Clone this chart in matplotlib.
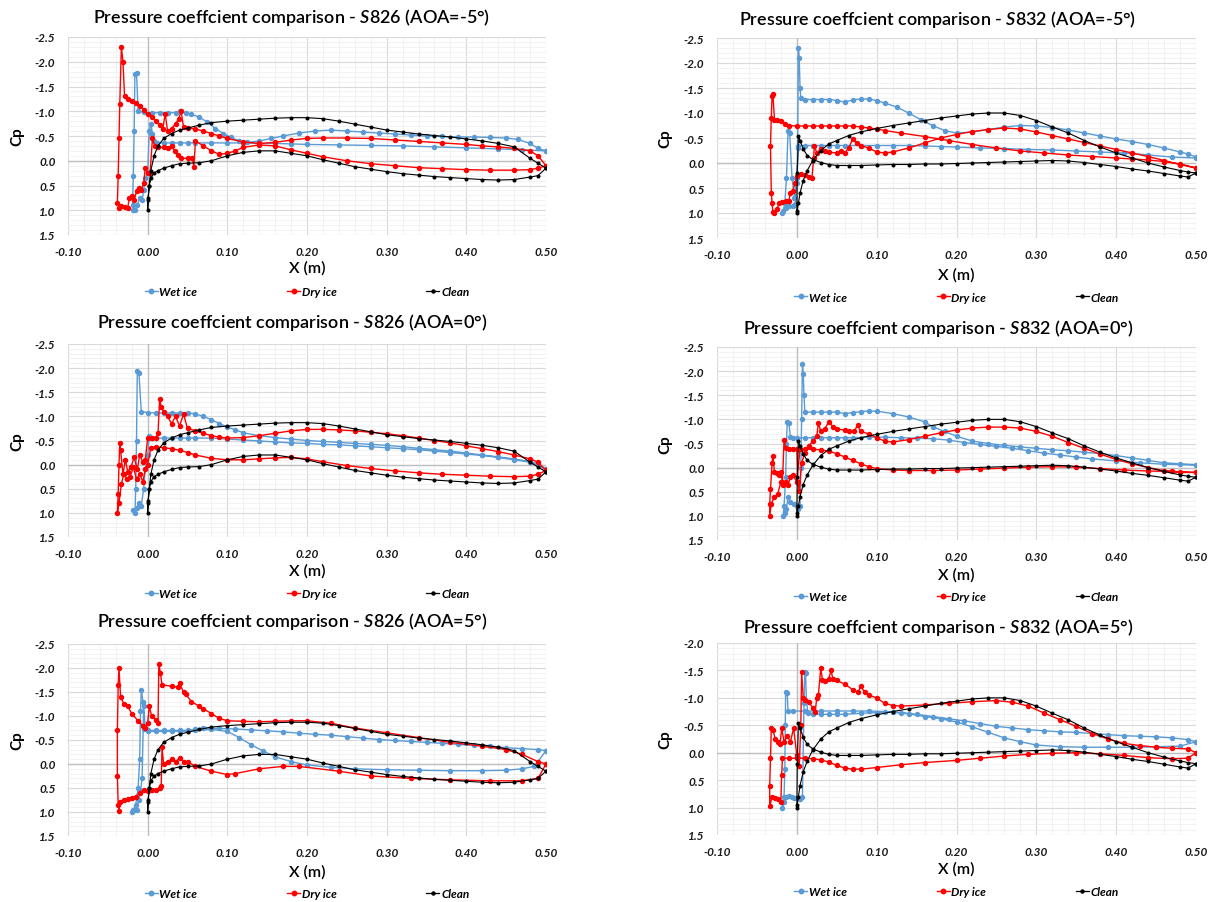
import matplotlib
matplotlib.use('Agg')
import matplotlib.pyplot as plt
from matplotlib.ticker import MultipleLocator, FuncFormatter
from matplotlib.lines import Line2D

plt.rcParams['font.family'] = ['Lato', 'DejaVu Sans']
plt.rcParams['mathtext.fontset'] = 'custom'
plt.rcParams['mathtext.rm'] = 'Lato:semibold'
plt.rcParams['mathtext.it'] = 'Lato:italic:semibold'

# ---- clean airfoil (same points on both surfaces) ----
clean_half = [0.50, 0.49, 0.48, 0.46, 0.44, 0.42, 0.40, 0.38, 0.36, 0.34, 0.32,
              0.30, 0.28, 0.26, 0.24, 0.22, 0.20, 0.18, 0.16, 0.14, 0.12, 0.10,
              0.08, 0.065, 0.05, 0.04, 0.03, 0.02, 0.013, 0.008, 0.004, 0.002, 0.0005]
clean_x = clean_half + [0.0] + clean_half[::-1]

clean_826_upper = [0.15, 0.05, -0.05, -0.28, -0.35, -0.40, -0.44, -0.48, -0.51, -0.54, -0.58,
                   -0.62, -0.68, -0.74, -0.80, -0.85, -0.87, -0.87, -0.86, -0.84, -0.82, -0.80,
                   -0.77, -0.72, -0.66, -0.62, -0.55, -0.45, -0.30, -0.10, 0.20, 0.50, 0.80]
clean_826_lower = [0.75, 0.50, 0.35, 0.25, 0.20, 0.15, 0.10, 0.06, 0.05, 0.04, 0.00,
                   -0.10, -0.17, -0.20, -0.20, -0.15, -0.10, -0.02, 0.05, 0.12, 0.17, 0.22,
                   0.26, 0.29, 0.32, 0.34, 0.36, 0.38, 0.39, 0.38, 0.33, 0.30, 0.15]
clean_832_upper = [0.20, 0.18, 0.15, 0.08, 0.00, -0.10, -0.20, -0.32, -0.45, -0.60, -0.72,
                   -0.85, -0.95, -1.00, -1.00, -0.98, -0.94, -0.90, -0.85, -0.80, -0.75, -0.69,
                   -0.62, -0.55, -0.45, -0.38, -0.25, -0.05, 0.15, 0.35, 0.60, 0.80, 0.95]
clean_832_lower = [0.20, -0.55, -0.45, -0.28, -0.15, -0.07, -0.01, 0.03, 0.05, 0.05, 0.05,
                   0.04, 0.03, 0.03, 0.02, 0.02, 0.01, 0.00, -0.01, -0.02, -0.03, -0.04,
                   -0.05, -0.04, -0.01, 0.03, 0.07, 0.12, 0.16, 0.21, 0.26, 0.28, 0.20]
clean_826_cp = clean_826_upper + [1.0] + clean_826_lower
clean_832_cp = clean_832_upper + [1.0] + clean_832_lower

# ---- S826, AOA=-5 ----
s826_m5_wet = [(0.50, -0.20), (0.49, -0.25), (0.48, -0.35), (0.465, -0.43), (0.45, -0.46), (0.43, -0.47),
               (0.41, -0.48), (0.39, -0.48), (0.37, -0.49), (0.35, -0.50), (0.33, -0.52), (0.31, -0.54),
               (0.29, -0.56), (0.27, -0.58), (0.25, -0.60), (0.23, -0.62), (0.21, -0.60), (0.19, -0.56),
               (0.17, -0.50), (0.155, -0.45), (0.14, -0.40), (0.125, -0.37), (0.115, -0.40), (0.105, -0.47),
               (0.095, -0.55), (0.085, -0.65), (0.075, -0.78), (0.065, -0.88), (0.055, -0.94), (0.048, -0.97),
               (0.04, -1.00), (0.035, -0.97), (0.025, -0.97), (0.015, -0.97), (0.005, -0.97), (-0.005, -0.98),
               (-0.012, -1.00), (-0.014, -1.78), (-0.016, -1.75), (-0.017, -0.60), (-0.018, 0.30), (-0.019, 0.90),
               (-0.018, 1.00), (-0.016, 1.00), (-0.013, 0.90), (-0.010, 0.75), (-0.007, 0.80), (-0.005, 0.60),
               (-0.003, 0.35), (0.0, 0.25), (0.002, -0.60), (0.004, -0.75), (0.006, -0.55), (0.008, -0.40),
               (0.012, -0.36), (0.02, -0.36), (0.03, -0.36), (0.04, -0.36), (0.05, -0.36), (0.06, -0.36),
               (0.08, -0.36), (0.10, -0.36), (0.12, -0.36), (0.14, -0.35), (0.16, -0.35), (0.18, -0.34),
               (0.20, -0.33), (0.24, -0.32), (0.28, -0.31), (0.32, -0.30), (0.36, -0.28), (0.40, -0.26),
               (0.44, -0.24), (0.47, -0.22), (0.50, -0.20)]
s826_m5_dry = [(0.50, 0.10), (0.49, -0.10), (0.48, -0.20), (0.46, -0.25), (0.44, -0.28), (0.42, -0.30),
               (0.40, -0.33), (0.37, -0.36), (0.34, -0.39), (0.31, -0.42), (0.28, -0.45), (0.25, -0.46),
               (0.22, -0.46), (0.20, -0.45), (0.18, -0.42), (0.16, -0.37), (0.14, -0.35), (0.12, -0.38),
               (0.10, -0.45), (0.09, -0.50), (0.08, -0.55), (0.07, -0.60), (0.06, -0.64), (0.05, -0.67),
               (0.045, -0.68), (0.042, -1.00), (0.039, -0.85), (0.035, -0.75), (0.03, -0.65), (0.025, -0.60),
               (0.022, -0.95), (0.019, -0.65), (0.015, -0.72), (0.01, -0.80), (0.005, -0.88), (0.0, -0.95),
               (-0.005, -1.03), (-0.010, -1.10), (-0.015, -1.16), (-0.020, -1.20), (-0.025, -1.25), (-0.029, -1.30),
               (-0.031, -2.00), (-0.033, -2.30), (-0.035, -1.15), (-0.036, -0.45), (-0.037, 0.30), (-0.038, 0.85),
               (-0.036, 0.95), (-0.033, 0.92), (-0.029, 0.93), (-0.025, 0.95), (-0.023, 0.75), (-0.020, 0.72),
               (-0.017, 0.80), (-0.014, 0.62), (-0.011, 0.55), (-0.008, 0.60), (-0.005, 0.45), (-0.003, 0.15),
               (0.0, 0.25), (0.003, 0.25), (0.006, -0.45), (0.009, -0.30), (0.013, -0.27), (0.02, -0.27),
               (0.025, -0.25), (0.03, -0.30), (0.034, -0.20), (0.038, -0.12), (0.042, -0.05), (0.05, -0.05),
               (0.056, -0.05), (0.058, 0.12), (0.06, -0.40), (0.07, -0.30), (0.08, -0.20), (0.09, -0.13),
               (0.10, -0.15), (0.11, -0.20), (0.12, -0.27), (0.14, -0.32), (0.16, -0.30), (0.18, -0.22),
               (0.20, -0.15), (0.22, -0.08), (0.25, 0.00), (0.28, 0.06), (0.31, 0.10), (0.34, 0.14),
               (0.37, 0.16), (0.40, 0.18), (0.43, 0.19), (0.46, 0.19), (0.48, 0.18), (0.49, 0.15), (0.50, 0.10)]

# ---- S826, AOA=0 ----
s826_0_wet = [(0.50, 0.10), (0.49, -0.02), (0.48, -0.06), (0.46, -0.12), (0.44, -0.16), (0.42, -0.20),
              (0.40, -0.24), (0.38, -0.28), (0.36, -0.31), (0.34, -0.34), (0.32, -0.37), (0.30, -0.40),
              (0.28, -0.42), (0.26, -0.44), (0.24, -0.46), (0.22, -0.48), (0.20, -0.50), (0.18, -0.53),
              (0.16, -0.56), (0.14, -0.60), (0.12, -0.66), (0.11, -0.72), (0.10, -0.78), (0.09, -0.85),
              (0.08, -0.93), (0.07, -1.00), (0.06, -1.05), (0.05, -1.07), (0.04, -1.07), (0.03, -1.07),
              (0.02, -1.07), (0.01, -1.07), (0.0, -1.08), (-0.008, -1.10), (-0.011, -1.90), (-0.013, -1.95),
              (-0.014, -0.50), (-0.015, 0.50), (-0.016, 1.00), (-0.018, 0.95), (-0.014, 0.90), (-0.011, 0.80),
              (-0.008, 0.85), (-0.005, 0.50), (-0.003, 0.10), (0.0, -0.20), (0.002, -0.60), (0.004, -0.55),
              (0.01, -0.55), (0.02, -0.55), (0.03, -0.55), (0.04, -0.55), (0.05, -0.55), (0.06, -0.55),
              (0.08, -0.55), (0.10, -0.53), (0.12, -0.51), (0.14, -0.49), (0.16, -0.47), (0.18, -0.45),
              (0.20, -0.44), (0.22, -0.42), (0.24, -0.41), (0.26, -0.39), (0.28, -0.37), (0.30, -0.35),
              (0.32, -0.33), (0.34, -0.31), (0.36, -0.28), (0.38, -0.25), (0.40, -0.22), (0.42, -0.19),
              (0.44, -0.15), (0.46, -0.10), (0.48, -0.05), (0.50, 0.10)]
s826_0_dry = [(0.50, 0.12), (0.49, -0.05), (0.48, -0.12), (0.46, -0.20), (0.44, -0.27), (0.42, -0.33),
              (0.40, -0.39), (0.38, -0.45), (0.36, -0.50), (0.34, -0.55), (0.32, -0.60), (0.30, -0.64),
              (0.28, -0.67), (0.26, -0.70), (0.24, -0.72), (0.22, -0.73), (0.20, -0.73), (0.18, -0.70),
              (0.16, -0.65), (0.14, -0.60), (0.12, -0.56), (0.10, -0.55), (0.09, -0.57), (0.08, -0.60),
              (0.07, -0.65), (0.06, -0.70), (0.05, -0.75), (0.045, -1.05), (0.04, -0.80), (0.035, -1.00),
              (0.03, -0.85), (0.025, -1.00), (0.02, -1.10), (0.017, -1.20), (0.015, -1.35), (0.013, -0.65),
              (0.01, -0.55), (0.005, -0.55), (0.0, -0.55), (-0.003, -0.10), (-0.006, -0.05), (-0.010, -0.20),
              (-0.013, 0.10), (-0.017, -0.15), (-0.021, 0.05), (-0.025, 0.15), (-0.028, -0.10), (-0.031, 0.20),
              (-0.034, -0.30), (-0.035, -0.45), (-0.036, 0.00), (-0.037, 0.60), (-0.038, 1.00), (-0.036, 0.80),
              (-0.033, 0.40), (-0.030, 0.20), (-0.026, 0.30), (-0.022, 0.25), (-0.018, 0.05), (-0.014, 0.30),
              (-0.010, 0.20), (-0.006, 0.35), (-0.003, 0.10), (0.0, 0.00), (0.004, -0.35), (0.01, -0.37),
              (0.02, -0.35), (0.03, -0.33), (0.04, -0.30), (0.05, -0.25), (0.06, -0.20), (0.08, -0.13),
              (0.10, -0.10), (0.12, -0.10), (0.14, -0.12), (0.16, -0.14), (0.18, -0.15), (0.20, -0.12),
              (0.22, -0.06), (0.25, 0.02), (0.28, 0.08), (0.31, 0.13), (0.34, 0.17), (0.37, 0.20),
              (0.40, 0.22), (0.43, 0.24), (0.46, 0.25), (0.48, 0.24), (0.49, 0.20), (0.50, 0.12)]

# ---- S826, AOA=5 ----
s826_5_wet = [(0.50, -0.28), (0.49, -0.30), (0.47, -0.32), (0.45, -0.34), (0.43, -0.37), (0.41, -0.39),
              (0.39, -0.41), (0.37, -0.43), (0.35, -0.45), (0.33, -0.47), (0.31, -0.49), (0.29, -0.51),
              (0.27, -0.54), (0.25, -0.57), (0.23, -0.60), (0.21, -0.62), (0.19, -0.64), (0.17, -0.67),
              (0.15, -0.69), (0.13, -0.71), (0.11, -0.73), (0.09, -0.74), (0.07, -0.75), (0.06, -0.72),
              (0.05, -0.70), (0.04, -0.70), (0.03, -0.70), (0.02, -0.70), (0.01, -0.70), (0.0, -0.70),
              (-0.004, -0.72), (-0.006, -1.30), (-0.008, -1.55), (-0.009, -1.10), (-0.010, -0.10), (-0.012, 0.50),
              (-0.015, 0.85), (-0.018, 0.95), (-0.020, 1.00), (-0.017, 0.95), (-0.014, 0.95), (-0.011, 0.75),
              (-0.009, 0.55), (-0.007, 0.30), (-0.005, -1.20), (-0.003, -0.75), (0.0, -0.68), (0.01, -0.68),
              (0.02, -0.68), (0.03, -0.68), (0.04, -0.68), (0.05, -0.68), (0.06, -0.70), (0.08, -0.72),
              (0.10, -0.68), (0.115, -0.55), (0.13, -0.40), (0.145, -0.27), (0.16, -0.15), (0.18, -0.05),
              (0.20, 0.02), (0.23, 0.07), (0.26, 0.10), (0.30, 0.12), (0.34, 0.13), (0.38, 0.14),
              (0.42, 0.14), (0.45, 0.13), (0.47, 0.10), (0.485, 0.05), (0.49, -0.05), (0.50, -0.28)]
s826_5_dry = [(0.50, 0.00), (0.49, -0.05), (0.47, -0.20), (0.45, -0.30), (0.42, -0.37), (0.38, -0.45),
              (0.34, -0.55), (0.30, -0.65), (0.26, -0.75), (0.23, -0.85), (0.20, -0.90), (0.18, -0.90),
              (0.16, -0.89), (0.14, -0.88), (0.12, -0.89), (0.10, -0.90), (0.09, -0.95), (0.08, -1.05),
              (0.07, -1.15), (0.065, -1.20), (0.055, -1.30), (0.048, -1.45), (0.045, -1.50), (0.04, -1.68),
              (0.038, -1.60), (0.03, -1.62), (0.018, -1.65), (0.016, -1.90), (0.014, -2.08), (0.013, -0.85),
              (0.01, -0.92), (0.005, -1.00), (0.002, -1.20), (0.0, -0.85), (-0.003, -0.75), (-0.006, -0.80),
              (-0.012, -0.90), (-0.020, -1.05), (-0.025, -1.20), (-0.030, -1.25), (-0.034, -1.40), (-0.036, -2.00),
              (-0.037, -1.65), (-0.038, -0.70), (-0.038, 0.25), (-0.037, 0.85), (-0.036, 0.97), (-0.035, 0.80),
              (-0.030, 0.75), (-0.025, 0.72), (-0.020, 0.70), (-0.015, 0.68), (-0.010, 0.60), (-0.005, 0.55),
              (0.0, 0.57), (0.005, 0.55), (0.01, 0.55), (0.015, 0.50), (0.017, 0.45), (0.018, -0.35),
              (0.02, 0.00), (0.025, -0.05), (0.03, -0.10), (0.035, -0.05), (0.04, -0.12), (0.045, -0.05),
              (0.05, -0.05), (0.06, 0.05), (0.08, 0.15), (0.10, 0.22), (0.11, 0.20), (0.14, 0.10),
              (0.17, 0.05), (0.19, 0.05), (0.24, 0.15), (0.28, 0.25), (0.33, 0.30), (0.38, 0.33),
              (0.43, 0.35), (0.47, 0.35), (0.49, 0.30), (0.50, 0.00)]

# ---- S832, AOA=-5 ----
s832_m5_wet = [(0.50, -0.12), (0.49, -0.18), (0.48, -0.22), (0.46, -0.30), (0.44, -0.37), (0.42, -0.43),
               (0.40, -0.48), (0.38, -0.54), (0.36, -0.60), (0.34, -0.66), (0.32, -0.71), (0.30, -0.74),
               (0.28, -0.75), (0.26, -0.72), (0.24, -0.67), (0.22, -0.62), (0.20, -0.60), (0.185, -0.65),
               (0.17, -0.75), (0.155, -0.87), (0.14, -1.00), (0.125, -1.12), (0.11, -1.20), (0.10, -1.25),
               (0.09, -1.28), (0.08, -1.28), (0.07, -1.26), (0.06, -1.22), (0.05, -1.25), (0.04, -1.27),
               (0.03, -1.27), (0.02, -1.27), (0.01, -1.27), (0.005, -1.30), (0.004, -1.50), (0.003, -2.10),
               (0.002, -2.30), (0.001, -0.30), (0.0, 0.40), (-0.003, 0.70), (-0.006, 0.30), (-0.009, -0.60),
               (-0.011, -0.65), (-0.013, 0.30), (-0.015, 0.80), (-0.017, 0.95), (-0.018, 1.00), (-0.014, 0.90),
               (-0.010, 0.85), (-0.005, 0.85), (-0.002, 0.82), (0.0, 0.30), (0.002, -0.35), (0.01, -0.35),
               (0.02, -0.35), (0.03, -0.35), (0.04, -0.35), (0.05, -0.35), (0.06, -0.35), (0.08, -0.35),
               (0.10, -0.35), (0.12, -0.35), (0.14, -0.35), (0.16, -0.34), (0.18, -0.33), (0.20, -0.32),
               (0.23, -0.30), (0.26, -0.29), (0.29, -0.27), (0.32, -0.26), (0.35, -0.24), (0.38, -0.22),
               (0.41, -0.20), (0.44, -0.16), (0.47, -0.12), (0.50, -0.10)]
s832_m5_dry = [(0.50, 0.10), (0.48, 0.02), (0.46, -0.03), (0.44, -0.06), (0.42, -0.08), (0.40, -0.10),
               (0.37, -0.13), (0.34, -0.16), (0.31, -0.20), (0.28, -0.24), (0.25, -0.30), (0.22, -0.37),
               (0.19, -0.45), (0.16, -0.53), (0.13, -0.60), (0.11, -0.65), (0.10, -0.68), (0.09, -0.70),
               (0.08, -0.72), (0.07, -0.74), (0.06, -0.74), (0.05, -0.74), (0.04, -0.74), (0.03, -0.74),
               (0.02, -0.74), (0.01, -0.74), (0.0, -0.74), (-0.010, -0.75), (-0.015, -0.78), (-0.020, -0.84),
               (-0.025, -0.87), (-0.028, -0.86), (-0.030, -1.38), (-0.031, -1.35), (-0.032, -0.90), (-0.033, -0.35),
               (-0.032, 0.60), (-0.031, 0.80), (-0.030, 0.98), (-0.028, 1.00), (-0.025, 0.92), (-0.022, 0.80),
               (-0.018, 0.78), (-0.014, 0.76), (-0.010, 0.75), (-0.008, 0.60), (-0.005, 0.55), (-0.002, 0.40),
               (0.0, 0.25), (0.005, 0.22), (0.01, 0.23), (0.015, 0.27), (0.019, 0.30), (0.021, -0.10),
               (0.022, -0.35), (0.025, -0.20), (0.03, -0.28), (0.035, -0.25), (0.04, -0.22), (0.05, -0.20),
               (0.055, -0.25), (0.06, -0.20), (0.065, -0.30), (0.07, -0.48), (0.075, -0.40), (0.08, -0.35),
               (0.09, -0.30), (0.10, -0.22), (0.11, -0.20), (0.12, -0.22), (0.14, -0.30), (0.16, -0.40),
               (0.18, -0.50), (0.20, -0.57), (0.22, -0.63), (0.24, -0.67), (0.26, -0.70), (0.28, -0.68),
               (0.30, -0.62), (0.32, -0.55), (0.34, -0.48), (0.36, -0.41), (0.38, -0.34), (0.40, -0.27),
               (0.42, -0.20), (0.44, -0.13), (0.46, -0.05), (0.48, 0.03), (0.50, 0.10)]

# ---- S832, AOA=0 ----
s832_0_wet = [(0.50, -0.06), (0.48, -0.08), (0.46, -0.10), (0.44, -0.15), (0.42, -0.20), (0.40, -0.25),
              (0.38, -0.29), (0.36, -0.32), (0.34, -0.35), (0.32, -0.37), (0.30, -0.40), (0.28, -0.43),
              (0.26, -0.46), (0.24, -0.50), (0.22, -0.55), (0.20, -0.65), (0.185, -0.75), (0.17, -0.85),
              (0.16, -0.95), (0.14, -1.05), (0.12, -1.12), (0.10, -1.17), (0.09, -1.17), (0.08, -1.16),
              (0.07, -1.14), (0.06, -1.12), (0.05, -1.15), (0.04, -1.15), (0.03, -1.15), (0.02, -1.15),
              (0.01, -1.15), (0.009, -1.50), (0.008, -1.95), (0.007, -2.15), (0.006, -1.00), (0.005, 0.00),
              (0.004, 0.80), (0.002, 0.85), (0.0, 0.80), (-0.004, 0.75), (-0.008, 0.72), (-0.011, 0.60),
              (-0.013, 0.85), (-0.015, 0.95), (-0.017, 1.00), (-0.016, 0.80), (-0.014, 0.20), (-0.013, -0.50),
              (-0.012, -0.95), (-0.010, -0.92), (-0.008, -0.63), (-0.005, -0.62), (0.0, -0.62), (0.01, -0.62),
              (0.02, -0.62), (0.03, -0.62), (0.04, -0.62), (0.05, -0.62), (0.06, -0.62), (0.07, -0.62),
              (0.09, -0.63), (0.11, -0.63), (0.13, -0.62), (0.15, -0.61), (0.17, -0.60), (0.19, -0.57),
              (0.21, -0.52), (0.23, -0.48), (0.25, -0.44), (0.27, -0.40), (0.29, -0.35), (0.31, -0.30),
              (0.33, -0.26), (0.35, -0.22), (0.37, -0.18), (0.40, -0.14), (0.43, -0.10), (0.46, -0.07),
              (0.50, -0.05)]
s832_0_dry = [(0.50, 0.10), (0.48, 0.10), (0.46, 0.06), (0.44, 0.00), (0.42, -0.08), (0.40, -0.17),
              (0.38, -0.28), (0.36, -0.40), (0.34, -0.52), (0.32, -0.65), (0.30, -0.75), (0.28, -0.82),
              (0.26, -0.84), (0.24, -0.84), (0.22, -0.82), (0.20, -0.78), (0.18, -0.72), (0.16, -0.65),
              (0.14, -0.58), (0.12, -0.53), (0.11, -0.55), (0.10, -0.62), (0.09, -0.70), (0.08, -0.75),
              (0.076, -0.88), (0.072, -0.75), (0.065, -0.75), (0.06, -0.78), (0.05, -0.80), (0.045, -0.85),
              (0.04, -0.95), (0.035, -0.80), (0.03, -0.75), (0.027, -0.93), (0.025, -0.65), (0.02, -0.55),
              (0.015, -0.45), (0.01, -0.30), (0.006, -0.10), (0.003, 0.48), (0.001, 0.30), (0.0, -0.38),
              (-0.005, -0.38), (-0.010, -0.38), (-0.014, -0.40), (-0.016, -0.58), (-0.018, 0.30), (-0.020, 0.10),
              (-0.022, 0.15), (-0.025, 0.12), (-0.028, 0.10), (-0.030, -0.25), (-0.031, -0.10), (-0.033, 0.45),
              (-0.034, 0.75), (-0.034, 1.00), (-0.032, 0.75), (-0.028, 0.60), (-0.024, 0.55), (-0.020, 0.30),
              (-0.017, 0.35), (-0.014, 0.30), (-0.011, 0.35), (-0.008, 0.20), (-0.005, 0.15), (0.0, 0.30),
              (0.004, -0.38), (0.01, -0.38), (0.02, -0.38), (0.03, -0.37), (0.04, -0.34), (0.05, -0.29),
              (0.06, -0.22), (0.07, -0.15), (0.08, -0.08), (0.09, -0.02), (0.10, 0.02), (0.12, 0.05),
              (0.14, 0.06), (0.17, 0.06), (0.20, 0.05), (0.23, 0.03), (0.26, 0.01), (0.29, -0.01),
              (0.32, -0.02), (0.35, -0.01), (0.38, 0.02), (0.41, 0.05), (0.44, 0.07), (0.47, 0.08),
              (0.50, 0.10)]

# ---- S832, AOA=5 ----
s832_5_wet = [(0.50, -0.20), (0.49, -0.24), (0.47, -0.27), (0.45, -0.29), (0.43, -0.30), (0.41, -0.31),
              (0.39, -0.33), (0.37, -0.35), (0.35, -0.37), (0.33, -0.38), (0.31, -0.40), (0.29, -0.42),
              (0.27, -0.45), (0.25, -0.48), (0.23, -0.53), (0.21, -0.58), (0.19, -0.62), (0.17, -0.66),
              (0.15, -0.70), (0.13, -0.73), (0.11, -0.75), (0.09, -0.76), (0.07, -0.76), (0.05, -0.76),
              (0.03, -0.76), (0.01, -0.76), (-0.005, -0.76), (-0.011, -0.76), (-0.012, -1.08), (-0.014, -1.10),
              (-0.0145, -0.50), (-0.015, 0.30), (-0.016, 0.80), (-0.018, 1.00), (-0.016, 0.90), (-0.013, 0.80),
              (-0.010, 0.78), (-0.006, 0.80), (-0.003, 0.82), (0.0, 0.82), (0.004, 0.85), (0.007, 0.80),
              (0.009, -0.90), (0.010, -1.48), (0.011, -1.45), (0.012, -0.95), (0.014, -0.72), (0.02, -0.70),
              (0.03, -0.70), (0.04, -0.70), (0.05, -0.70), (0.06, -0.70), (0.08, -0.72), (0.10, -0.73),
              (0.12, -0.74), (0.14, -0.71), (0.16, -0.66), (0.18, -0.62), (0.20, -0.56), (0.22, -0.47),
              (0.24, -0.37), (0.26, -0.27), (0.28, -0.20), (0.30, -0.14), (0.33, -0.11), (0.36, -0.10),
              (0.39, -0.10), (0.42, -0.10), (0.45, -0.11), (0.48, -0.12), (0.50, -0.20)]
s832_5_dry = [(0.50, 0.00), (0.49, -0.07), (0.47, -0.08), (0.45, -0.10), (0.43, -0.13), (0.41, -0.17),
              (0.39, -0.25), (0.37, -0.35), (0.35, -0.48), (0.33, -0.60), (0.31, -0.72), (0.29, -0.85),
              (0.27, -0.92), (0.25, -0.95), (0.22, -0.93), (0.19, -0.90), (0.16, -0.87), (0.13, -0.85),
              (0.12, -0.86), (0.11, -0.90), (0.10, -1.00), (0.09, -1.05), (0.085, -1.10), (0.08, -1.22),
              (0.077, -1.10), (0.07, -1.15), (0.06, -1.25), (0.05, -1.32), (0.045, -1.35), (0.043, -1.50),
              (0.04, -1.35), (0.035, -1.30), (0.032, -1.33), (0.03, -1.55), (0.027, -1.05), (0.025, -1.00),
              (0.023, -0.75), (0.02, -0.82), (0.015, -0.92), (0.01, -0.97), (0.008, -1.00), (0.006, -1.48),
              (0.005, -0.50), (0.003, 0.25), (0.0, 0.05), (-0.004, -0.45), (-0.008, -0.20), (-0.012, -0.30),
              (-0.016, -0.20), (-0.019, -0.45), (-0.021, -0.15), (-0.024, -0.20), (-0.027, -0.25), (-0.030, -0.42),
              (-0.032, -0.45), (-0.033, 0.10), (-0.034, 0.60), (-0.034, 0.98), (-0.031, 0.80), (-0.027, 0.82),
              (-0.023, 0.85), (-0.020, 0.90), (-0.019, 0.40), (-0.018, 0.10), (-0.01, 0.10), (0.0, 0.10),
              (0.01, 0.10), (0.02, 0.11), (0.03, 0.13), (0.04, 0.17), (0.05, 0.23), (0.06, 0.28),
              (0.07, 0.30), (0.08, 0.30), (0.10, 0.27), (0.13, 0.22), (0.16, 0.18), (0.20, 0.14),
              (0.23, 0.10), (0.26, 0.06), (0.29, 0.03), (0.32, 0.01), (0.35, 0.00), (0.38, 0.02),
              (0.41, 0.05), (0.44, 0.09), (0.47, 0.11), (0.49, 0.10), (0.50, 0.00)]

airfoils = ['S826', 'S832', 'S826', 'S832', 'S826', 'S832']
aoas = ['-5', '-5', '0', '0', '5', '5']
wet_series = [s826_m5_wet, s832_m5_wet, s826_0_wet, s832_0_wet, s826_5_wet, s832_5_wet]
dry_series = [s826_m5_dry, s832_m5_dry, s826_0_dry, s832_0_dry, s826_5_dry, s832_5_dry]
clean_series = [clean_826_cp, clean_832_cp, clean_826_cp, clean_832_cp, clean_826_cp, clean_832_cp]
y_tops = [-2.5, -2.5, -2.5, -2.5, -2.5, -2.0]

# ---- layout in pixels ----
W, H = 1212, 903
boxes = [(68, 38, 546, 236), (717, 39, 1196, 239),
         (68, 345, 546, 538), (717, 348, 1196, 541),
         (68, 645, 546, 837), (717, 644, 1196, 836)]
title_y = [18, 20, 323, 329, 622, 627]
xlabel_y = [268, 275, 571, 575, 872, 869]
legend_y = [293, 298, 595, 598, 895, 893]
title_x = [292, 938]
ylabel_x = [17, 665]

WET, DRY, CLEAN = '#5B9BD5', '#FF0000', '#000000'

fig = plt.figure(figsize=(W / 100, H / 100), dpi=100)
fig.patch.set_facecolor('white')

ytick_fmt = FuncFormatter(lambda v, p: '%.1f' % (0.0 if abs(v) < 1e-9 else v))
xtick_fmt = FuncFormatter(lambda v, p: '%.2f' % (0.0 if abs(v) < 1e-9 else v))

for i in range(6):
    l, t, r, b = boxes[i]
    col = i % 2
    ax = fig.add_axes([l / W, 1 - b / H, (r - l) / W, (b - t) / H])
    ax.set_xlim(-0.10, 0.50)
    ax.set_ylim(1.5, y_tops[i])
    ax.xaxis.set_major_locator(MultipleLocator(0.1))
    ax.xaxis.set_minor_locator(MultipleLocator(0.02))
    ax.yaxis.set_major_locator(MultipleLocator(0.5))
    ax.yaxis.set_minor_locator(MultipleLocator(0.1))
    ax.xaxis.set_major_formatter(xtick_fmt)
    ax.yaxis.set_major_formatter(ytick_fmt)
    ax.grid(which='major', color='#D9D9D9', lw=0.8)
    ax.grid(which='minor', color='#F0F0F0', lw=0.6)
    ax.set_axisbelow(True)
    for s in ax.spines.values():
        s.set_visible(False)
    ax.tick_params(which='both', length=0)
    ax.tick_params(axis='x', pad=8)
    ax.tick_params(axis='y', pad=9)
    for lab in ax.get_xticklabels() + ax.get_yticklabels():
        lab.set_fontsize(8.5)
        lab.set_fontweight('bold')
        lab.set_fontstyle('italic')
        lab.set_color('#1a1a1a')
    ax.axhline(0, color='#BFBFBF', lw=1.0, zorder=1)
    ax.axvline(0, color='#BFBFBF', lw=1.0, zorder=1)

    wx, wcp = zip(*wet_series[i])
    dx, dcp = zip(*dry_series[i])
    ax.plot(wx, wcp, color=WET, lw=1.0, marker='o', ms=2.9, zorder=3)
    ax.plot(dx, dcp, color=DRY, lw=1.0, marker='o', ms=2.9, zorder=4)
    ax.plot(clean_x, clean_series[i], color=CLEAN, lw=0.8, marker='o', ms=1.9, zorder=5)

    fig.text(title_x[col] / W, 1 - title_y[i] / H,
             'Pressure coeffcient comparison - $\\mathit{%s}$ (AOA=%s°)' % (airfoils[i], aoas[i]),
             ha='center', va='center', fontsize=13, fontweight='semibold')
    fig.text((l + r) / 2 / W, 1 - xlabel_y[i] / H, 'X (m)', ha='center', va='center',
             fontsize=11.5, fontweight='semibold')
    fig.text(ylabel_x[col] / W, 1 - (t + b) / 2 / H, 'Cp', ha='center', va='center',
             rotation=90, fontsize=11, fontweight='bold')

    handles = [Line2D([], [], color=WET, lw=1.0, marker='o', ms=3.2),
               Line2D([], [], color=DRY, lw=1.0, marker='o', ms=3.2),
               Line2D([], [], color=CLEAN, lw=0.9, marker='o', ms=2.2)]
    ax.legend(handles, ['Wet ice', 'Dry ice', 'Clean'], ncol=3, loc='center',
              bbox_to_anchor=((l + r) / 2 / W, 1 - legend_y[i] / H), bbox_transform=fig.transFigure,
              frameon=False, handlelength=1.1, handletextpad=0.15, columnspacing=7.6, numpoints=1,
              prop={'size': 8.5, 'weight': 'bold', 'style': 'italic'})

fig.savefig('out.png', dpi=100, facecolor='white')
